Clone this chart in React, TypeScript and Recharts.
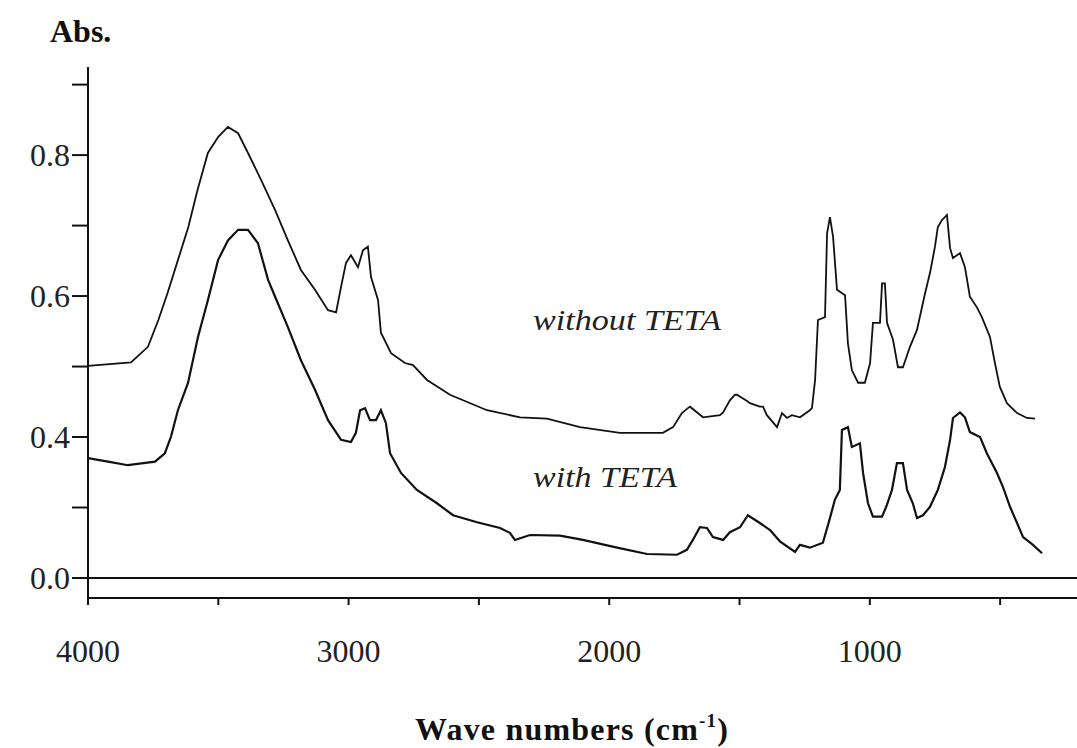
import { LineChart, Line, XAxis, YAxis, ReferenceLine } from 'recharts'

// Spectrum without TETA (upper trace)
const withoutTetaWavenumber = [
  4000, 3835, 3770, 3730, 3695, 3655, 3615, 3580, 3540, 3500, 3463, 3424, 3386, 3336,
  3282, 3233, 3183, 3129, 3079, 3048, 3029, 3010, 2991, 2964, 2945, 2926, 2914, 2887,
  2876, 2837, 2784, 2753, 2699, 2611, 2469, 2342, 2239, 2112, 1959, 1794, 1755, 1721,
  1698, 1690, 1640, 1575, 1563, 1537, 1517, 1510, 1471, 1460, 1422, 1410, 1395, 1356,
  1337, 1318, 1299, 1268, 1230, 1222, 1210, 1199, 1172, 1164, 1153, 1141, 1126, 1095,
  1084, 1069, 1045, 1019, 999, 988, 961, 953, 942, 934, 911, 892, 873, 846, 819, 788,
  769, 750, 739, 723, 704, 692, 681, 654, 635, 616, 589, 570, 539, 520, 501, 474, 435,
  397, 366,
]
const withoutTetaAbs = [
  0.501, 0.506, 0.528, 0.566, 0.604, 0.651, 0.698, 0.750, 0.803, 0.826, 0.840, 0.831, 0.803, 0.765,
  0.722, 0.679, 0.637, 0.609, 0.580, 0.577, 0.613, 0.647, 0.658, 0.641, 0.665, 0.670, 0.627, 0.594,
  0.548, 0.519, 0.505, 0.502, 0.481, 0.460, 0.438, 0.428, 0.426, 0.414, 0.406, 0.406, 0.414, 0.434,
  0.441, 0.443, 0.428, 0.431, 0.435, 0.452, 0.460, 0.460, 0.451, 0.448, 0.443, 0.443, 0.431, 0.414,
  0.434, 0.427, 0.431, 0.428, 0.438, 0.441, 0.481, 0.566, 0.570, 0.689, 0.712, 0.684, 0.609, 0.601,
  0.533, 0.495, 0.477, 0.477, 0.505, 0.562, 0.562, 0.618, 0.618, 0.562, 0.538, 0.499, 0.499, 0.528, 0.552, 0.604,
  0.633, 0.670, 0.698, 0.708, 0.715, 0.668, 0.654, 0.661, 0.641, 0.599, 0.584, 0.570, 0.542, 0.505, 0.471, 0.448, 0.434,
  0.427, 0.426,
]

// Spectrum with TETA (lower trace)
const withTetaWavenumber = [
  4000, 3923, 3847, 3743, 3705, 3682, 3655, 3616, 3578, 3540, 3501, 3463, 3424, 3386,
  3348, 3309, 3282, 3233, 3183, 3129, 3079, 3029, 2991, 2972, 2956, 2937, 2918, 2895,
  2876, 2857, 2841, 2799, 2738, 2661, 2599, 2507, 2419, 2381, 2362, 2304, 2189, 2101,
  1970, 1855, 1740, 1702, 1679, 1652, 1625, 1602, 1563, 1537, 1498, 1468, 1422, 1383,
  1345, 1287, 1268, 1230, 1180, 1153, 1134, 1115, 1107, 1084, 1069, 1038, 1026, 1007,
  988, 953, 934, 915, 896, 873, 857, 835, 819, 796, 769, 739, 712, 692, 681, 654, 635,
  616, 577, 551, 512, 489, 462, 435, 412, 374, 339,
]
const withTetaAbs = [
  0.370, 0.365, 0.360, 0.365, 0.377, 0.400, 0.438, 0.477, 0.542, 0.594, 0.651, 0.679, 0.694, 0.694,
  0.675, 0.623, 0.599, 0.556, 0.509, 0.467, 0.424, 0.396, 0.393, 0.406, 0.438, 0.441, 0.424, 0.424,
  0.438, 0.420, 0.377, 0.349, 0.325, 0.306, 0.289, 0.279, 0.271, 0.264, 0.254, 0.261, 0.260, 0.254,
  0.243, 0.234, 0.233, 0.240, 0.254, 0.272, 0.271, 0.258, 0.254, 0.265, 0.272, 0.289, 0.278, 0.268,
  0.252, 0.237, 0.247, 0.243, 0.250, 0.285, 0.311, 0.325, 0.410, 0.414, 0.386, 0.391, 0.349, 0.306,
  0.287, 0.287, 0.304, 0.325, 0.363, 0.363, 0.325, 0.306, 0.285, 0.289, 0.301, 0.325, 0.357, 0.396, 0.427, 0.435, 0.428,
  0.407, 0.400, 0.377, 0.349, 0.329, 0.301, 0.278, 0.258, 0.247, 0.235,
]

const xTicks = [4000, 3500, 3000, 2500, 2000, 1500, 1000, 500]
const yTicks = [0.2, 0.3, 0.4, 0.5, 0.6, 0.7, 0.8, 0.9]
// the lowest labelled tick is printed as the zero baseline
const yTickLabels: Record<string, string> = { '0.2': '0.0', '0.4': '0.4', '0.6': '0.6', '0.8': '0.8' }

const withoutTeta = withoutTetaWavenumber.map((w, i) => ({ w, abs: withoutTetaAbs[i] }))
const withTeta = withTetaWavenumber.map((w, i) => ({ w, abs: withTetaAbs[i] }))

const SERIF = '"Liberation Serif", "Times New Roman", serif'
const INK = '#111'

export default function App() {
  return (
    <div style={{ position: 'absolute', left: 0, top: 0, width: 1077, height: 748, background: '#fff' }}>
      <LineChart width={1077} height={748} margin={{ top: 67, right: 0, bottom: 90, left: 0 }}>
        <XAxis
          type="number" dataKey="w" domain={[205, 4000]} reversed allowDataOverflow
          ticks={xTicks} interval={0} height={60}
          tickFormatter={v => (v % 1000 === 0 ? String(v) : '')}
          tick={{ fontSize: 32, fill: '#222', fontFamily: SERIF }}
          tickSize={7} tickMargin={34}
          axisLine={{ stroke: INK, strokeWidth: 2 }}
          tickLine={{ stroke: INK, strokeWidth: 2 }}
        />
        <YAxis
          type="number" domain={[0.1716, 0.925]} allowDataOverflow width={88}
          ticks={yTicks} interval={0}
          tickFormatter={v => yTickLabels[v.toFixed(1)] ?? ''}
          tick={{ fontSize: 32, fill: '#222', fontFamily: SERIF }}
          tickSize={16} tickMargin={2}
          axisLine={{ stroke: INK, strokeWidth: 2 }}
          tickLine={{ stroke: INK, strokeWidth: 2 }}
        />
        <ReferenceLine y={0.2} stroke={INK} strokeWidth={2} />
        <Line data={withoutTeta} dataKey="abs" type="linear" dot={false}
          stroke={INK} strokeWidth={1.8} isAnimationActive={false} />
        <Line data={withTeta} dataKey="abs" type="linear" dot={false}
          stroke={INK} strokeWidth={2.2} isAnimationActive={false} />
      </LineChart>
      <svg width={1077} height={748} style={{ position: 'absolute', left: 0, top: 0, pointerEvents: 'none' }}>
        <text x={50} y={42} fontFamily={SERIF} fontWeight="bold" fontSize={32} fill={INK}>Abs.</text>
        <text x={533} y={330} fontFamily={SERIF} fontStyle="italic" fontSize={30} fill="#222"
          textLength={188} lengthAdjust="spacingAndGlyphs">without TETA</text>
        <text x={533} y={487} fontFamily={SERIF} fontStyle="italic" fontSize={30} fill="#222"
          textLength={144} lengthAdjust="spacingAndGlyphs">with TETA</text>
        <text x={415} y={740} fontFamily={SERIF} fontWeight="bold" fontSize={32} fill={INK} letterSpacing={1.2}>
          Wave numbers (cm<tspan fontSize={19} dy={-13}>-1</tspan><tspan dy={13}>)</tspan>
        </text>
      </svg>
    </div>
  )
}
